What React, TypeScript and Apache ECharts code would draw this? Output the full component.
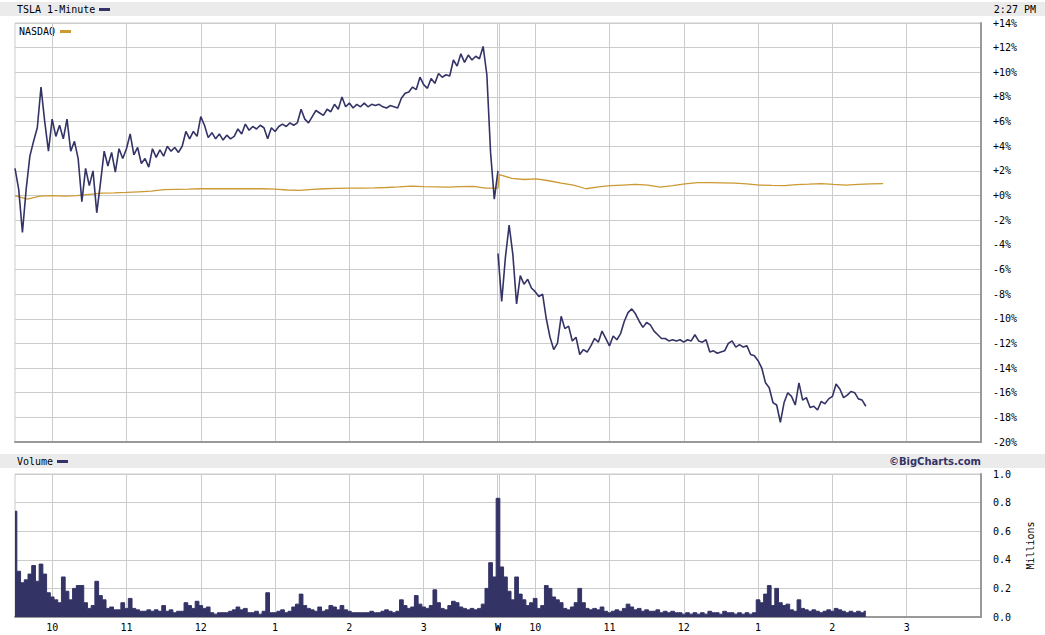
import React, { useEffect, useRef } from 'react';
import * as echarts from 'echarts';

// ---- axis layout (trading minutes since day-1 09:30) ----
const STEP = 3; // minutes between TSLA / volume readings
const NQ_STEP = 10; // minutes between NASDAQ readings
const DAY2_START = 390;
const TOTAL_MIN = 780;
const hourLabels = ['10', '11', '12', '1', '2', '3'];
const dayLabel = 'W';

// ---- TSLA % change (day 1: t = 0..390, day 2: t = 390..687) ----
const tslaDay1 = [
  2.2, 0.5, -3.0, 0.5, 3.2, 4.4, 5.5, 8.8, 6.0, 3.6,
  6.2, 4.8, 5.7, 4.6, 6.2, 3.6, 4.4, 3.0, -0.5, 2.2,
  0.8, 2.0, -1.4, 1.0, 3.6, 2.4, 3.5, 1.9, 3.8, 3.0,
  3.8, 5.0, 3.3, 3.9, 2.6, 3.0, 2.3, 3.8, 3.1, 3.7,
  3.2, 4.0, 3.6, 3.9, 3.5, 4.0, 5.2, 4.6, 5.2, 4.8,
  6.4, 5.7, 4.7, 5.1, 4.6, 5.0, 4.5, 4.9, 4.6, 4.8,
  5.4, 5.0, 5.8, 5.3, 5.6, 5.4, 5.7, 5.5, 4.6, 5.5,
  5.2, 5.6, 5.8, 5.6, 5.9, 5.7, 5.9, 7.0, 6.2, 5.9,
  6.4, 6.9, 6.7, 6.5, 7.0, 6.8, 7.4, 7.0, 8.0, 7.2,
  7.5, 7.1, 7.4, 7.2, 7.5, 7.2, 7.4, 7.3, 7.4, 7.2,
  7.1, 7.3, 7.2, 7.1, 7.9, 8.3, 8.4, 8.8, 8.6, 9.6,
  9.0, 8.7, 9.5, 9.1, 9.9, 9.6, 9.8, 9.7, 11.0, 10.5,
  11.5, 10.8, 11.4, 11.0, 11.3, 11.1, 12.1, 9.8, 3.5, -0.3,
  2.0,
];
const tslaDay2 = [
  -4.7, -8.6, -5.0, -2.4, -4.8, -8.8, -6.5, -7.2, -6.8, -7.5,
  -7.8, -8.2, -8.0, -10.0, -11.5, -12.5, -12.0, -9.8, -10.8, -10.6,
  -11.8, -11.5, -12.9, -12.5, -12.7, -12.2, -11.6, -11.9, -11.0, -11.6,
  -12.2, -11.4, -11.7, -11.2, -10.2, -9.5, -9.2, -9.6, -10.2, -10.7,
  -10.3, -10.5, -11.0, -11.3, -11.6, -11.6, -11.8, -11.7, -11.8, -11.7,
  -11.9, -11.7, -11.8, -11.3, -11.8, -11.9, -11.7, -12.7, -12.6, -12.8,
  -12.7, -12.6, -12.0, -11.8, -12.3, -12.1, -12.3, -12.2, -12.9, -13.0,
  -13.4, -14.0, -15.2, -15.6, -16.8, -17.0, -18.4, -16.8, -16.0, -16.3,
  -17.0, -15.2, -16.6, -16.4, -17.2, -17.1, -17.4, -16.7, -16.9, -16.5,
  -16.3, -15.3, -15.7, -16.4, -16.2, -15.9, -16.0, -16.5, -16.6, -17.1,
];

// ---- NASDAQ % change (day 1: t = 0..390 step 10, day 2: t = 391.. step 10) ----
const nasdaqDay1 = [
  0.0, -0.3, -0.05, 0.0, -0.05, 0.0, 0.1, 0.2, 0.22, 0.25,
  0.3, 0.35, 0.48, 0.5, 0.52, 0.55, 0.55, 0.55, 0.55, 0.55,
  0.55, 0.52, 0.45, 0.42, 0.5, 0.55, 0.58, 0.6, 0.6, 0.62,
  0.65, 0.7, 0.76, 0.72, 0.7, 0.68, 0.72, 0.75, 0.6, 0.6,
];
const nasdaqDay2 = [
  1.7, 1.4, 1.3, 1.35, 1.2, 1.0, 0.85, 0.55, 0.7, 0.8,
  0.85, 0.9, 0.85, 0.68, 0.8, 0.95, 1.05, 1.05, 1.03, 1.0,
  0.95, 0.85, 0.82, 0.8, 0.88, 0.92, 0.97, 0.9, 0.85, 0.9,
  0.95, 0.97,
];

// ---- Volume, millions (day 1: t = 0..387, day 2: t = 390..687) ----
const volumeDay1 = [
  0.74, 0.32, 0.24, 0.26, 0.3, 0.36, 0.25, 0.37, 0.3, 0.17,
  0.14, 0.12, 0.1, 0.28, 0.18, 0.12, 0.2, 0.22, 0.22, 0.1,
  0.06, 0.08, 0.25, 0.15, 0.12, 0.06, 0.07, 0.05, 0.05, 0.1,
  0.06, 0.13, 0.06, 0.05, 0.04, 0.04, 0.05, 0.04, 0.05, 0.04,
  0.08, 0.04, 0.05, 0.03, 0.04, 0.04, 0.1, 0.08, 0.06, 0.11,
  0.08, 0.06, 0.07, 0.03, 0.02, 0.03, 0.03, 0.03, 0.04, 0.05,
  0.07, 0.05, 0.06, 0.03, 0.03, 0.04, 0.02, 0.04, 0.17, 0.03,
  0.03, 0.04, 0.05, 0.03, 0.04, 0.07, 0.09, 0.16, 0.08, 0.06,
  0.05, 0.04, 0.07, 0.04, 0.05, 0.08, 0.07, 0.05, 0.08, 0.05,
  0.04, 0.03, 0.03, 0.03, 0.03, 0.03, 0.04, 0.03, 0.03, 0.04,
  0.05, 0.04, 0.03, 0.04, 0.12, 0.08, 0.06, 0.07, 0.15, 0.09,
  0.07, 0.06, 0.08, 0.19, 0.1, 0.06, 0.05, 0.08, 0.11, 0.1,
  0.07, 0.06, 0.05, 0.06, 0.05, 0.06, 0.09, 0.2, 0.38, 0.28,
];
const volumeDay2 = [
  0.83, 0.35, 0.28, 0.18, 0.12, 0.28, 0.16, 0.12, 0.08, 0.1,
  0.13, 0.06, 0.08, 0.22, 0.2, 0.14, 0.12, 0.1, 0.06, 0.05,
  0.07, 0.1, 0.2, 0.1, 0.06, 0.05, 0.06, 0.05, 0.07, 0.04,
  0.03, 0.04, 0.05, 0.04, 0.06, 0.09, 0.07, 0.05, 0.06, 0.04,
  0.05, 0.04, 0.04, 0.05, 0.03, 0.04, 0.03, 0.04, 0.03, 0.03,
  0.02, 0.03, 0.02, 0.03, 0.02, 0.03, 0.02, 0.04, 0.03, 0.03,
  0.02, 0.04, 0.03, 0.03, 0.02, 0.03, 0.02, 0.03, 0.02, 0.03,
  0.12, 0.1, 0.16, 0.22, 0.08, 0.2, 0.1, 0.08, 0.09, 0.05,
  0.04, 0.12, 0.06, 0.05, 0.04, 0.05, 0.04, 0.03, 0.04, 0.05,
  0.04, 0.06, 0.05, 0.04, 0.03, 0.04, 0.03, 0.04, 0.03, 0.04,
];

const NAVY = '#333366';
const GOLD = '#cc9933';
const GRID = '#cccccc';
const EDGE = '#999999';
const BAR_BG = '#ebebeb';
const MONO = '"DejaVu Sans Mono", monospace';

const categories = Array.from({ length: TOTAL_MIN + 1 }, (_, i) => String(i));
const labelAt: Record<number, string> = {};
hourLabels.forEach((h, i) => {
  labelAt[30 + 60 * i] = h;
  labelAt[DAY2_START + 30 + 60 * i] = h;
});
labelAt[DAY2_START] = dayLabel;
const gridAt = new Set<number>();
Object.keys(labelAt).forEach((k) => {
  const n = Number(k);
  if (n !== DAY2_START) gridAt.add(n);
});
gridAt.add(DAY2_START - 1);
gridAt.add(DAY2_START + 1);

function pctLabel(v: number) {
  if (v > 0) return '+' + v + '%';
  if (v === 0) return '+0%';
  return v + '%';
}

function xAxisFor(gridIndex: number, showLabels: boolean) {
  return {
    type: 'category',
    gridIndex,
    data: categories,
    boundaryGap: false,
    axisLine: { show: true, onZero: false, lineStyle: { color: EDGE, width: 2 } },
    axisTick: { show: false },
    axisLabel: {
      show: showLabels,
      interval: (index: number) => labelAt[index] !== undefined,
      formatter: (_v: string, index: number) => {
        const l = labelAt[index];
        if (l === undefined) return '';
        return l === dayLabel ? '{d|' + l + '}' : l;
      },
      color: '#000',
      fontSize: 10,
      fontFamily: MONO,
      margin: 5,
      rich: { d: { fontWeight: 'bold', fontSize: 10, fontFamily: MONO, color: '#000' } },
    },
    splitLine: {
      show: true,
      interval: (index: number) => gridAt.has(index),
      lineStyle: { color: GRID, width: 1 },
    },
  };
}

export default function App() {
  const ref = useRef<HTMLDivElement>(null);

  useEffect(() => {
    if (!ref.current) return;
    const chart = echarts.init(ref.current, undefined, { renderer: 'svg' });

    const option = {
      animation: false,
      backgroundColor: '#ffffff',
      textStyle: { fontFamily: MONO },
      grid: [
        { left: 15, top: 23, width: 966, height: 419, show: true, borderColor: GRID, borderWidth: 1, backgroundColor: '#fff' },
        { left: 15, top: 474, width: 966, height: 143, show: true, borderColor: GRID, borderWidth: 1, backgroundColor: '#fff' },
      ],
      xAxis: [xAxisFor(0, false), xAxisFor(1, true)],
      yAxis: [
        {
          type: 'value',
          gridIndex: 0,
          position: 'right',
          min: -20,
          max: 14,
          interval: 2,
          axisLine: { show: true, lineStyle: { color: EDGE, width: 2 } },
          axisTick: { show: false },
          splitLine: { show: true, lineStyle: { color: GRID, width: 1 } },
          axisLabel: { formatter: pctLabel, color: '#000', fontSize: 10, fontFamily: MONO, margin: 12 },
        },
        {
          type: 'value',
          gridIndex: 1,
          position: 'right',
          min: 0,
          max: 1,
          interval: 0.2,
          name: 'Millions',
          nameLocation: 'middle',
          nameRotate: 90,
          nameGap: 44,
          nameTextStyle: { color: '#000', fontSize: 10, fontFamily: MONO },
          axisLine: { show: true, lineStyle: { color: EDGE, width: 2 } },
          axisTick: { show: false },
          splitLine: { show: true, lineStyle: { color: GRID, width: 1 } },
          axisLabel: { formatter: (v: number) => v.toFixed(1), color: '#000', fontSize: 10, fontFamily: MONO, margin: 12 },
        },
      ],
      series: [
        {
          type: 'line',
          name: 'NASDAQ',
          xAxisIndex: 0,
          yAxisIndex: 0,
          data: [
            ...nasdaqDay1.map((v, j) => [j * NQ_STEP, v]),
            ...nasdaqDay2.map((v, j) => [DAY2_START + 1 + j * NQ_STEP, v]),
          ],
          showSymbol: false,
          lineStyle: { color: GOLD, width: 1.3 },
          itemStyle: { color: GOLD },
          z: 2,
        },
        {
          type: 'line',
          name: 'TSLA',
          xAxisIndex: 0,
          yAxisIndex: 0,
          data: tslaDay1.map((v, k) => [k * STEP, v]),
          showSymbol: false,
          lineStyle: { color: NAVY, width: 1.6 },
          itemStyle: { color: NAVY },
          z: 3,
        },
        {
          type: 'line',
          name: 'TSLA day 2',
          xAxisIndex: 0,
          yAxisIndex: 0,
          data: tslaDay2.map((v, k) => [DAY2_START + k * STEP, v]),
          showSymbol: false,
          lineStyle: { color: NAVY, width: 1.6 },
          itemStyle: { color: NAVY },
          z: 3,
        },
        {
          type: 'line',
          name: 'Volume',
          xAxisIndex: 1,
          yAxisIndex: 1,
          step: 'middle',
          data: [
            ...volumeDay1.map((v, k) => [k * STEP, v]),
            ...volumeDay2.map((v, k) => [DAY2_START + k * STEP, v]),
          ],
          showSymbol: false,
          lineStyle: { color: NAVY, width: 1 },
          areaStyle: { color: NAVY, opacity: 1 },
          itemStyle: { color: NAVY },
          z: 3,
        },
      ],
      graphic: [
        { type: 'rect', shape: { x: 0, y: 2, width: 1045, height: 14 }, style: { fill: BAR_BG }, silent: true },
        { type: 'rect', shape: { x: 0, y: 454, width: 1045, height: 14 }, style: { fill: BAR_BG }, silent: true },
        { type: 'text', x: 17, y: 9, style: { text: 'TSLA 1-Minute', fontSize: 10, fontFamily: MONO, fill: '#000', verticalAlign: 'middle' } },
        { type: 'rect', shape: { x: 99, y: 8, width: 11, height: 3 }, style: { fill: NAVY } },
        { type: 'text', x: 1036, y: 9, style: { text: '2:27 PM', fontSize: 10, fontFamily: MONO, fill: '#000', align: 'right', verticalAlign: 'middle' } },
        { type: 'text', x: 19, y: 31, style: { text: 'NASDAQ', fontSize: 10, fontFamily: MONO, fill: '#000', verticalAlign: 'middle' } },
        { type: 'rect', shape: { x: 60, y: 30, width: 11, height: 3 }, style: { fill: GOLD } },
        { type: 'text', x: 17, y: 461, style: { text: 'Volume', fontSize: 10, fontFamily: MONO, fill: '#000', verticalAlign: 'middle' } },
        { type: 'rect', shape: { x: 57, y: 460, width: 11, height: 3 }, style: { fill: NAVY } },
        { type: 'text', x: 981, y: 461, style: { text: '©BigCharts.com', fontSize: 10, fontWeight: 'bold', fontFamily: '"DejaVu Sans", sans-serif', fill: NAVY, align: 'right', verticalAlign: 'middle' } },
      ],
    };

    chart.setOption(option as any);
    return () => chart.dispose();
  }, []);

  return <div ref={ref} style={{ position: 'fixed', left: 0, top: 0, width: 1045, height: 635, background: '#fff' }} />;
}
